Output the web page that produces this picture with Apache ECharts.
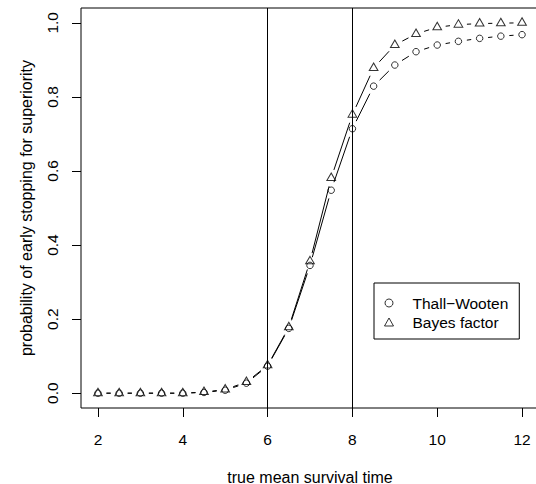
<!DOCTYPE html>
<html>
<head>
<meta charset="utf-8">
<script src="https://cdn.jsdelivr.net/npm/echarts@6/dist/echarts.min.js"></script>
<style>
  html, body { margin: 0; padding: 0; background: #fff; }
  #chart { width: 536px; height: 484px; }
</style>
</head>
<body>
<div id="chart"></div>
<script>
// true mean survival time
var survivalTimes = [2, 2.5, 3, 3.5, 4, 4.5, 5, 5.5, 6, 6.5, 7, 7.5, 8, 8.5, 9, 9.5, 10, 10.5, 11, 11.5, 12];
// probability of early stopping for superiority
var thallWooten = [0, 0, 0, 0, 0, 0.002, 0.008, 0.027, 0.073, 0.175, 0.345, 0.548, 0.714, 0.829, 0.886, 0.922, 0.940, 0.950, 0.958, 0.964, 0.968];
var bayesFactor = [0, 0, 0, 0, 0, 0.003, 0.010, 0.030, 0.075, 0.178, 0.356, 0.581, 0.752, 0.878, 0.940, 0.970, 0.988, 0.995, 0.998, 0.999, 1.0];
var xTicks = [2, 4, 6, 8, 10, 12];
var yTicks = [0, 0.2, 0.4, 0.6, 0.8, 1.0];
var vLines = [6, 8];

var FONT = '"Liberation Sans", Arial, Helvetica, sans-serif';
var GAP = 8.5; // type "b" style gap around each point, px

function pointsOf(ys) {
  return survivalTimes.map(function(x, i) { return [x, ys[i]]; });
}

// one item per segment: [x0, y0, x1, y1]
function segmentsOf(ys) {
  var segs = [];
  for (var i = 0; i < survivalTimes.length - 1; i++) {
    segs.push([survivalTimes[i], ys[i], survivalTimes[i + 1], ys[i + 1]]);
  }
  return segs;
}

function renderGapSegment(params, api) {
  var p0 = api.coord([api.value(0), api.value(1)]);
  var p1 = api.coord([api.value(2), api.value(3)]);
  var dx = p1[0] - p0[0], dy = p1[1] - p0[1];
  var d = Math.sqrt(dx * dx + dy * dy);
  if (d <= 2 * GAP) {
    return null;
  }
  var ux = dx / d, uy = dy / d;
  return {
    type: 'line',
    shape: {
      x1: p0[0] + ux * GAP, y1: p0[1] + uy * GAP,
      x2: p1[0] - ux * GAP, y2: p1[1] - uy * GAP
    },
    style: { stroke: '#000', lineWidth: 1, fill: null }
  };
}

var hollow = { color: 'rgba(0,0,0,0)', borderColor: '#000', borderWidth: 1 };

var chart = echarts.init(document.getElementById('chart'), null, { renderer: 'svg' });

chart.setOption({
  animation: false,
  backgroundColor: '#fff',
  textStyle: { fontFamily: FONT, color: '#000' },
  grid: {
    left: 81, top: 8, width: 458, height: 400,
    outerBoundsMode: 'none',
    containLabel: false,
    show: true, borderColor: '#000', borderWidth: 1, backgroundColor: 'transparent'
  },
  legend: {
    orient: 'vertical',
    left: 374, top: 283,
    padding: [12, 11, 9, 10],
    itemGap: 3,
    itemWidth: 9, itemHeight: 8,
    borderColor: '#000', borderWidth: 1, borderRadius: 0,
    selectedMode: false,
    textStyle: { fontFamily: FONT, fontSize: 15.5, color: '#000', lineHeight: 16, padding: [0, 0, 0, 14] },
    data: [
      { name: 'Thall−Wooten', icon: 'circle', itemStyle: hollow },
      { name: 'Bayes factor', icon: 'triangle', itemStyle: hollow }
    ]
  },
  xAxis: {
    type: 'value',
    min: 1.6, max: 12.4,
    name: 'true mean survival time',
    nameLocation: 'middle',
    nameGap: 61,
    nameTextStyle: { fontFamily: FONT, fontSize: 16, color: '#000' },
    axisLine: { show: false, onZero: false },
    splitLine: { show: false },
    axisTick: { show: true, inside: false, length: 9, customValues: xTicks, lineStyle: { color: '#000', width: 1 } },
    axisLabel: {
      customValues: xTicks, margin: 23,
      fontFamily: FONT, fontSize: 15.5, color: '#000'
    }
  },
  yAxis: {
    type: 'value',
    min: -0.04, max: 1.04,
    name: 'probability of early stopping for superiority',
    nameLocation: 'middle',
    nameGap: 47,
    nameTextStyle: { fontFamily: FONT, fontSize: 16, color: '#000' },
    axisLine: { show: false, onZero: false },
    splitLine: { show: false },
    axisTick: { show: true, inside: false, length: 9, customValues: yTicks, lineStyle: { color: '#000', width: 1 } },
    axisLabel: {
      customValues: yTicks, margin: 21, rotate: 90,
      fontFamily: FONT, fontSize: 15.5, color: '#000',
      formatter: function(v) { return v.toFixed(1); }
    }
  },
  series: [
    {
      name: 'tw-lines', type: 'custom', silent: true,
      renderItem: renderGapSegment,
      data: segmentsOf(thallWooten),
      encode: { x: [0, 2], y: [1, 3] },
      z: 2
    },
    {
      name: 'bf-lines', type: 'custom', silent: true,
      renderItem: renderGapSegment,
      data: segmentsOf(bayesFactor),
      encode: { x: [0, 2], y: [1, 3] },
      z: 2
    },
    {
      name: 'Thall−Wooten', type: 'scatter', silent: true,
      symbol: 'circle', symbolSize: 6.5,
      itemStyle: hollow,
      data: pointsOf(thallWooten),
      z: 3,
      markLine: {
        silent: true, symbol: 'none',
        label: { show: false },
        lineStyle: { color: '#000', width: 1, type: 'solid' },
        data: vLines.map(function(v) { return { xAxis: v }; })
      }
    },
    {
      name: 'Bayes factor', type: 'scatter', silent: true,
      symbol: 'triangle', symbolSize: [8.7, 7.5], symbolOffset: [0, -1.25],
      itemStyle: hollow,
      data: pointsOf(bayesFactor),
      z: 3
    }
  ]
});
</script>
</body>
</html>
